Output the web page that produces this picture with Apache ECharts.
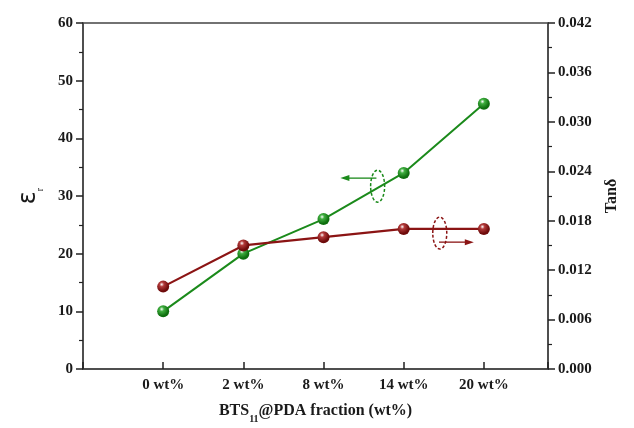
<!DOCTYPE html>
<html>
<head>
<meta charset="utf-8">
<script src="https://cdn.jsdelivr.net/npm/echarts@6/dist/echarts.min.js"></script>
<style>
  html, body { margin: 0; padding: 0; background: #fff; }
  #chart { width: 634px; height: 428px; }
</style>
</head>
<body>
<div id="chart"></div>
<script>
// Filler fractions along the x axis
var categories = ['0 wt%', '2 wt%', '8 wt%', '14 wt%', '20 wt%'];
// Dielectric constant (left axis)
var permittivity = [10, 20, 26, 34, 46];
// Dielectric loss tangent (right axis)
var lossTangent = [0.010, 0.015, 0.016, 0.017, 0.017];
// Left axis ticks
var epsTicks = [0, 10, 20, 30, 40, 50, 60];
// Right axis ticks
var tanTicks = [0.000, 0.006, 0.012, 0.018, 0.024, 0.030, 0.036, 0.042];

var FONT = '"Liberation Serif", "Times New Roman", serif';
var GREEN = '#1b8a1b';
var RED = '#8b1414';

function pairs(vals) {
  return vals.map(function (v, i) { return [i + 1, v]; });
}

function sphere(base, light) {
  return {
    type: 'radial', x: 0.38, y: 0.32, r: 0.75,
    colorStops: [
      { offset: 0, color: '#ffffff' },
      { offset: 0.25, color: light },
      { offset: 0.75, color: base },
      { offset: 1, color: base }
    ]
  };
}

var labelStyle = { fontFamily: FONT, fontWeight: 'bold', fontSize: 15, color: '#1a1a1a' };

var chart = echarts.init(document.getElementById('chart'));
chart.setOption({
  animation: false,
  backgroundColor: '#fff',
  grid: {
    left: 83, right: 86, top: 23, bottom: 59,
    outerBoundsMode: 'none', containLabel: false,
    show: true, borderColor: '#444', borderWidth: 1.5, backgroundColor: 'transparent'
  },
  xAxis: {
    type: 'value', min: 0, max: 5.8, interval: 1,
    axisLine: { lineStyle: { color: '#444', width: 1.5 } },
    axisTick: { inside: true, length: 7, lineStyle: { color: '#222', width: 1.5 } },
    splitLine: { show: false },
    axisLabel: Object.assign({
      margin: 9,
      formatter: function (v) {
        var i = Math.round(v) - 1;
        return (Math.abs(v - Math.round(v)) < 1e-6 && i >= 0 && i < categories.length) ? categories[i] : '';
      }
    }, labelStyle),
    name: '{b|BTS}{s|11}{b|@PDA fraction (wt%)}',
    nameLocation: 'middle', nameGap: 30,
    nameTextStyle: {
      rich: {
        b: { fontFamily: FONT, fontWeight: 'bold', fontSize: 16, color: '#1a1a1a', verticalAlign: 'bottom', lineHeight: 20 },
        s: { fontFamily: FONT, fontWeight: 'bold', fontSize: 10, color: '#1a1a1a', verticalAlign: 'bottom', lineHeight: 12, padding: [0, 0, -5, 0] }
      }
    }
  },
  yAxis: [
    {
      type: 'value', min: epsTicks[0], max: epsTicks[epsTicks.length - 1], interval: 10,
      position: 'left',
      axisLine: { show: true, lineStyle: { color: '#444', width: 1.5 } },
      axisTick: { show: true, length: 7, lineStyle: { color: '#222', width: 1.5 } },
      minorTick: { show: true, splitNumber: 2, length: 4, lineStyle: { color: '#222', width: 1.2 } },
      splitLine: { show: false },
      axisLabel: Object.assign({ margin: 10 }, labelStyle),
      name: '{e|ε}{r|r}',
      nameLocation: 'middle', nameGap: 42, nameRotate: 90,
      nameTextStyle: {
        rich: {
          e: { fontFamily: '"DejaVu Sans", sans-serif', fontSize: 24, color: '#1a1a1a', verticalAlign: 'bottom', lineHeight: 26 },
          r: { fontFamily: FONT, fontSize: 10, color: '#1a1a1a', verticalAlign: 'bottom', lineHeight: 12, padding: [0, 0, -4, 0] }
        }
      }
    },
    {
      type: 'value', min: tanTicks[0], max: tanTicks[tanTicks.length - 1], interval: 0.006,
      position: 'right',
      axisLine: { show: true, lineStyle: { color: '#444', width: 1.5 } },
      axisTick: { show: true, length: 7, lineStyle: { color: '#222', width: 1.5 } },
      minorTick: { show: true, splitNumber: 2, length: 4, lineStyle: { color: '#222', width: 1.2 } },
      splitLine: { show: false },
      axisLabel: Object.assign({ margin: 10, formatter: function (v) { return v.toFixed(3); } }, labelStyle),
      name: 'Tanδ',
      nameLocation: 'middle', nameGap: 56, nameRotate: 90,
      nameTextStyle: { fontFamily: FONT, fontWeight: 'bold', fontSize: 16, color: '#1a1a1a' }
    }
  ],
  series: [
    {
      name: 'εr', type: 'line', yAxisIndex: 0,
      data: pairs(permittivity),
      symbol: 'circle', symbolSize: 12,
      lineStyle: { color: GREEN, width: 2 },
      itemStyle: { color: sphere('#0e6e0e', '#3fae3f'), borderWidth: 0 },
      z: 3
    },
    {
      name: 'tanδ', type: 'line', yAxisIndex: 1,
      data: pairs(lossTangent),
      symbol: 'circle', symbolSize: 12,
      lineStyle: { color: RED, width: 2.2 },
      itemStyle: { color: sphere('#6e0b0b', '#b23a3a'), borderWidth: 0 },
      z: 3
    }
  ]
});

// Axis-pointer annotations: dashed ellipse around each curve with an arrow to its axis
function px(axisIdx, pt) {
  return chart.convertToPixel({ xAxisIndex: 0, yAxisIndex: axisIdx }, pt);
}
function annotation(axisIdx, center, from, to, color) {
  var c = px(axisIdx, center), a = px(axisIdx, from), b = px(axisIdx, to);
  var dir = b[0] < a[0] ? -1 : 1;
  return [
    { type: 'ellipse', shape: { cx: c[0], cy: c[1], rx: 7, ry: 16 },
      style: { fill: null, stroke: color, lineWidth: 1.5, lineDash: [3, 2] }, z: 10 },
    { type: 'line', shape: { x1: a[0], y1: a[1], x2: b[0] - dir * 6, y2: b[1] },
      style: { stroke: color, lineWidth: 1.3 }, z: 10 },
    { type: 'polygon', shape: { points: [[b[0], b[1]], [b[0] - dir * 9, b[1] - 3], [b[0] - dir * 9, b[1] + 3]] },
      style: { fill: color }, z: 10 }
  ];
}
chart.setOption({
  graphic: annotation(0, [3.675, 31.7], [3.66, 33.1], [3.21, 33.1], GREEN)
    .concat(annotation(1, [4.45, 0.0165], [4.44, 0.0154], [4.875, 0.0154], RED))
});
</script>
</body>
</html>
